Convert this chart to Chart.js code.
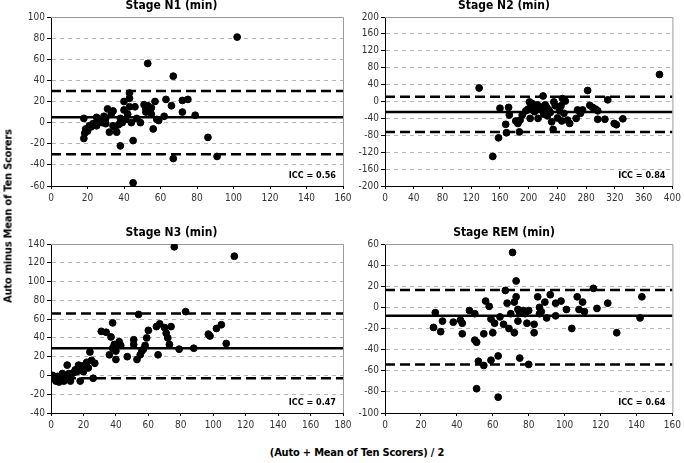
<!DOCTYPE html>
<html>
<head>
<meta charset="utf-8">
<script src="https://cdn.jsdelivr.net/npm/chart.js@4.4.1/dist/chart.umd.min.js"></script>
<style>
  body { margin: 0; background: #fff; }
  #page { position: relative; width: 684px; height: 463px; overflow: hidden; background: #fff;
          font-family: 'Liberation Sans Narrow', 'Arial Narrow', 'DejaVu Sans Condensed', sans-serif; }
  canvas { position: absolute; }
  .axis-title { position: absolute; font-weight: bold; font-size: 11px; letter-spacing: -0.2px; color: #000; white-space: nowrap; }
  #yTitle { left: 8px; top: 216px; transform: translate(-50%, -50%) rotate(-90deg); }
  #xTitle { left: 357px; top: 452px; transform: translate(-50%, -50%); }
</style>
</head>
<body>
<div id="page">
  <canvas id="chartN1" width="355" height="211" style="left:0px;top:-1px"></canvas>
  <canvas id="chartN2" width="350" height="211" style="left:334px;top:-1px"></canvas>
  <canvas id="chartN3" width="355" height="211" style="left:0px;top:226px"></canvas>
  <canvas id="chartREM" width="350" height="211" style="left:334px;top:226px"></canvas>
  <div class="axis-title" id="yTitle">Auto minus Mean of Ten Scorers</div>
  <div class="axis-title" id="xTitle">(Auto + Mean of Ten Scorers) / 2</div>
</div>
<script>
// panel titles and ICC labels
const panelTitles = ['Stage N1 (min)', 'Stage N2 (min)', 'Stage N3 (min)', 'Stage REM (min)'];
const iccLabels = ['ICC = 0.56', 'ICC = 0.84', 'ICC = 0.47', 'ICC = 0.64'];

// axis ranges [min, max, step]
const xRanges = [[0, 160, 20], [0, 400, 40], [0, 180, 20], [0, 160, 20]];
const yRanges = [[-60, 100, 20], [-200, 200, 40], [-40, 140, 20], [-100, 60, 20]];

// mean difference, upper limit, lower limit
const n1Lines = [5, 30, -30];
const n2Lines = [-25, 11, -72];
const n3Lines = [29, 66, -3];
const remLines = [-8, 16.5, -54];

// points: [mean of methods, difference]
const n1Points = [
  [18,4],[18,-15],[18.5,-10],[19,-6],[20,-8],[21,-3],[22,-4],[23,-1],[24,-2],[25,5],[25,-3],[26,2],
  [28,0],[29,6],[30,4],[30,-1],[31,13],[32,-9],[33,8],[34,11],[34,-3],[35,-4],[36,-9],[37,-2],
  [38,-22],[38,4],[39,0],[40,20],[40,12],[41,3],[42,8],[43,28],[43,23],[43,15],[44,0],[45,-17],
  [45,-57],[46,15],[47,4],[49,0],[51,17],[52,13],[52,10],[53,56],[53,16],[54,11],[55,8],[55,14],
  [56,-6],[57,20],[58,3],[59,2],[62,6],[63,22],[66,16],[67,44],[67,-34],[72,10],[72,21],[75,22],
  [79,7],[86,-14],[91,-32],[102,81]
];
const n2Points = [
  [131,32],[150,-130],[158,-86],[160,-16],[168,-54],[169,-74],[172,-14],[173,-32],[182,-46],[185,-52],
  [187,-72],[188,-44],[191,-32],[196,-22],[199,-18],[201,-1],[202,-40],[203,-12],[205,-5],[208,-24],
  [210,-16],[212,-8],[213,-40],[215,-12],[218,-20],[220,13],[221,-30],[223,-8],[225,-14],[226,-34],
  [228,-20],[230,-26],[232,-48],[234,-66],[235,-1],[237,-10],[240,-39],[243,-22],[245,-10],[246,-46],
  [247,7],[249,-28],[251,1],[254,-44],[257,-52],[266,-40],[268,-20],[272,-28],[275,-20],[282,26],
  [285,-9],[289,-14],[293,-18],[296,-22],[296,-42],[306,-42],[310,4],[319,-52],[322,-55],[331,-41],
  [382,64]
];
const n3Points = [
  [1,0],[2,-3],[3,-6],[4,-1],[5,-7],[6,-4],[7,2],[8,-6],[9,-2],[10,11],[11,2],[12,-6],[13,2],[14,3],
  [15,6],[16,4],[17,11],[18,-6],[18.5,8],[19,10],[20,4],[21,11],[22,14],[23,8],[24,25],[25,16],[26,-3],
  [27,13],[31,47],[34,46],[36,22],[37,41],[38,29],[38,56],[39,33],[40,26],[40,17],[42,36],[43,32],
  [47,20],[51,38],[51,33],[53,17],[54,65],[55,22],[56,26],[57,28],[58,32],[59,40],[60,48],[65,52],
  [66,22],[67,55],[70,51],[71,45],[72,40],[73,33],[74,52],[76,137],[79,28],[83,68],[88,29],[97,44],
  [98,42],[102,50],[105,54],[108,34],[113,127]
];
const remPoints = [
  [27,-19],[28,-5],[31,-23],[32,-13],[38,-14],[42,-12],[43,-15],[43,-25],[47,-3],[50,-6],[50,-31],
  [51,-33],[51,-77],[52,-51],[55,-25],[55,-55],[56,6],[58,1],[59,-11],[59,-50],[60,-24],[61,-15],
  [63,-46],[63,-85],[64,-9],[66,-16],[67,16],[68,4],[69,-20],[70,-6],[71,52],[72,-24],[72,5],[73,25],
  [73,10],[74,-2],[74,-13],[75,-48],[75,-5],[77,-3],[78,-6],[79,-15],[80,-3],[80,-54],[83,-24],
  [83,-16],[85,10],[86,0],[86,-6],[87,-4],[89,5],[90,-10],[92,12],[95,4],[95,-8],[98,6],[101,-2],
  [104,-20],[107,10],[108,-2],[110,5],[111,-4],[116,18],[118,-1],[124,4],[129,-24],[142,-10],[143,10]
];

const NARROW = "'Liberation Sans Narrow', 'Arial Narrow', 'DejaVu Sans Condensed', sans-serif";
Chart.defaults.font.family = NARROW;

// gray top/right frame and the ICC label inside the plot area
const framePlugin = {
  id: 'frame',
  beforeDatasetsDraw(chart, args, opts) {
    const { ctx, chartArea: a } = chart;
    ctx.save();
    ctx.strokeStyle = '#9a9a9a';
    ctx.lineWidth = 1;
    ctx.beginPath();
    ctx.moveTo(a.left, a.top + 0.5);
    ctx.lineTo(a.right + 0.5, a.top + 0.5);
    ctx.lineTo(a.right + 0.5, a.bottom);
    ctx.stroke();
    ctx.restore();
  },
  afterDraw(chart, args, opts) {
    const { ctx, chartArea: a } = chart;
    ctx.save();
    ctx.font = 'bold 9px ' + NARROW;
    ctx.fillStyle = '#000';
    ctx.textAlign = 'right';
    ctx.textBaseline = 'middle';
    ctx.fillText(opts.label, a.right - 7, a.bottom - 10);
    ctx.restore();
  }
};

function refLine(xr, y, dashed) {
  return {
    type: 'line',
    data: [{ x: xr[0], y: y }, { x: xr[1], y: y }],
    borderColor: '#000',
    borderWidth: 2.5,
    borderDash: dashed ? [10, 5] : [],
    pointRadius: 0,
    fill: false
  };
}

function makePanel(id, idx, points, lines, padRight) {
  const xr = xRanges[idx], yr = yRanges[idx];
  return new Chart(document.getElementById(id), {
    type: 'scatter',
    data: {
      datasets: [
        {
          data: points.map(p => ({ x: p[0], y: p[1] })),
          backgroundColor: '#000',
          borderColor: '#000',
          pointRadius: 3.4,
          pointHoverRadius: 3.4
        },
        refLine(xr, lines[0], false),
        refLine(xr, lines[1], true),
        refLine(xr, lines[2], true)
      ]
    },
    options: {
      responsive: false,
      animation: false,
      events: [],
      layout: { padding: { left: 0, right: padRight, top: 0, bottom: 0 } },
      plugins: {
        legend: { display: false },
        tooltip: { enabled: false },
        title: {
          display: true,
          text: panelTitles[idx],
          color: '#000',
          font: { size: 12, weight: 'bold', lineHeight: '14px' },
          padding: { top: 0, bottom: 4 }
        },
        frame: { label: iccLabels[idx] }
      },
      scales: {
        x: {
          type: 'linear',
          min: xr[0], max: xr[1],
          ticks: { stepSize: xr[2], color: '#333', font: { size: 10 }, padding: 3, maxRotation: 0 },
          grid: { drawOnChartArea: false, drawTicks: true, tickLength: 3, tickColor: '#000' },
          border: { color: '#000', width: 1 },
          afterFit(scale) { scale.height = 24; }
        },
        y: {
          type: 'linear',
          min: yr[0], max: yr[1],
          ticks: { stepSize: yr[2], color: '#333', font: { size: 10 }, padding: 2 },
          grid: { color: '#b5b5b5', lineWidth: 1, drawTicks: true, tickLength: 4, tickColor: '#000', tickBorderDash: [] },
          border: { color: '#000', width: 1, dash: [4, 4] },
          afterFit(scale) { scale.width = 51; }
        }
      }
    },
    plugins: [framePlugin]
  });
}

makePanel('chartN1', 0, n1Points, n1Lines, 12);
makePanel('chartN2', 1, n2Points, n2Lines, 10);
makePanel('chartN3', 2, n3Points, n3Lines, 12);
makePanel('chartREM', 3, remPoints, remLines, 10);
</script>
</body>
</html>
